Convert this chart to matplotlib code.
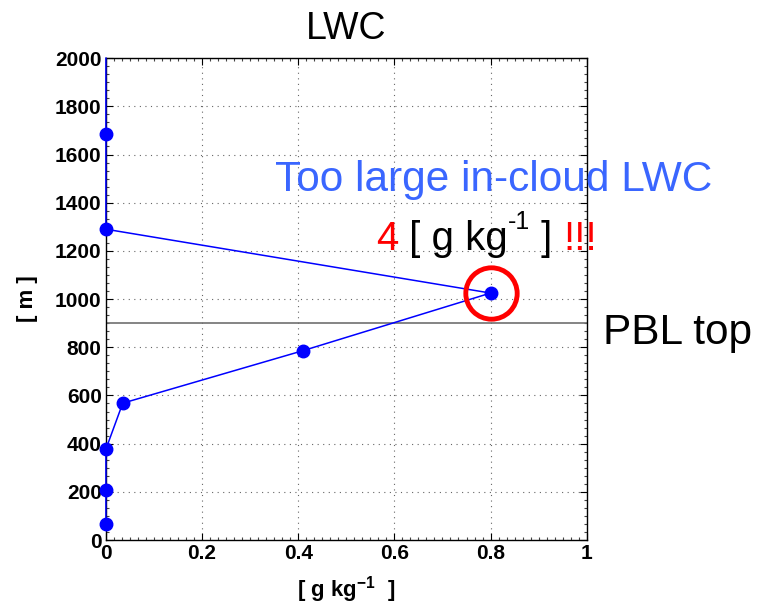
import matplotlib
matplotlib.use('Agg')
from matplotlib import pyplot as plt
from matplotlib.ticker import AutoMinorLocator
import numpy as np

plt.rcParams['font.family'] = ['Liberation Sans', 'DejaVu Sans']
plt.rcParams['mathtext.default'] = 'regular'

# LWC profile (g/kg) vs height (m); first point sits at the top edge
lwc = [0.0, 0.0, 0.0, 0.80, 0.41, 0.035, 0.0, 0.0, 0.0]
height = [2000, 1685, 1290, 1025, 786, 568, 377, 207, 66]
pbl_top = 900
xticks = [0, 0.2, 0.4, 0.6, 0.8, 1]
yticks = list(range(0, 2001, 200))


def main():
    fig = plt.figure(figsize=(7.73, 6.12), dpi=100)
    ax = fig.add_axes([0.137, 0.1176, 0.622, 0.7874])

    ax.plot(lwc, height, color='#0000ff', lw=1.1, marker='o', ms=9,
            markevery=list(range(1, len(lwc))), clip_on=False, zorder=3)
    ax.axhline(pbl_top, color='#707070', lw=1.2, zorder=2)
    # red circle round the peak
    ax.plot([lwc[3]], [height[3]], marker='o', ms=37, mfc='none',
            mec='#ff0000', mew=3.5, zorder=4)

    ax.set_xlim(0, 1)
    ax.set_ylim(0, 2000)
    ax.set_xticks(xticks)
    ax.set_xticklabels(['0', '0.2', '0.4', '0.6', '0.8', '1'])
    ax.set_yticks(yticks)
    ax.xaxis.set_minor_locator(AutoMinorLocator(12))
    ax.yaxis.set_minor_locator(AutoMinorLocator(6))
    ax.tick_params(which='both', direction='in', top=True, right=True,
                   labelsize=15, width=0.8)
    ax.tick_params(which='major', length=5, pad=3)
    ax.tick_params(which='minor', length=2.5, color='#444444')
    for lab in ax.get_xticklabels() + ax.get_yticklabels():
        lab.set_fontweight('bold')
    ax.grid(True, which='major', ls=(0, (1, 4)), color='#666666', lw=0.8)
    for s in ax.spines.values():
        s.set_linewidth(1.0)
        s.set_zorder(2.5)

    ax.set_xlabel('[ g kg$^{-1}$  ]', fontsize=16, fontweight='bold',
                  labelpad=8)
    ax.set_ylabel('[ m ]', fontsize=16, fontweight='bold', labelpad=12)
    ax.set_title('LWC', fontsize=27, pad=14)

    fig.text(494 / 773, 1 - 180 / 612, 'Too large in-cloud LWC',
             color='#3a66ff', fontsize=30.5, ha='center', va='center')

    # "4 [ g kg-1 ] !!!" built from pieces
    t1 = fig.text(376 / 773, 1 - 250 / 612, '4', color='#ff0000',
                  fontsize=29, ha='left', va='baseline')
    t2 = ax.annotate(' [ g kg', xy=(1, 0), xycoords=t1,
                     fontsize=29, color='black', ha='left', va='bottom')
    t3 = ax.annotate('-1', xy=(1, 0.62), xycoords=t2,
                     fontsize=18, color='black', ha='left', va='bottom')
    t4 = ax.annotate(' ] ', xy=(1, 0), xycoords=(t3, t2),
                     fontsize=29, color='black', ha='left', va='bottom')
    ax.annotate('!!!', xy=(1, 0), xycoords=t4, fontsize=29,
                color='#ff0000', ha='left', va='bottom')

    fig.text(603 / 773, 1 - 333 / 612, 'PBL top', fontsize=30.5,
             ha='left', va='center')

    fig.savefig('out.png', dpi=100)


if __name__ == "__main__":
    main()
